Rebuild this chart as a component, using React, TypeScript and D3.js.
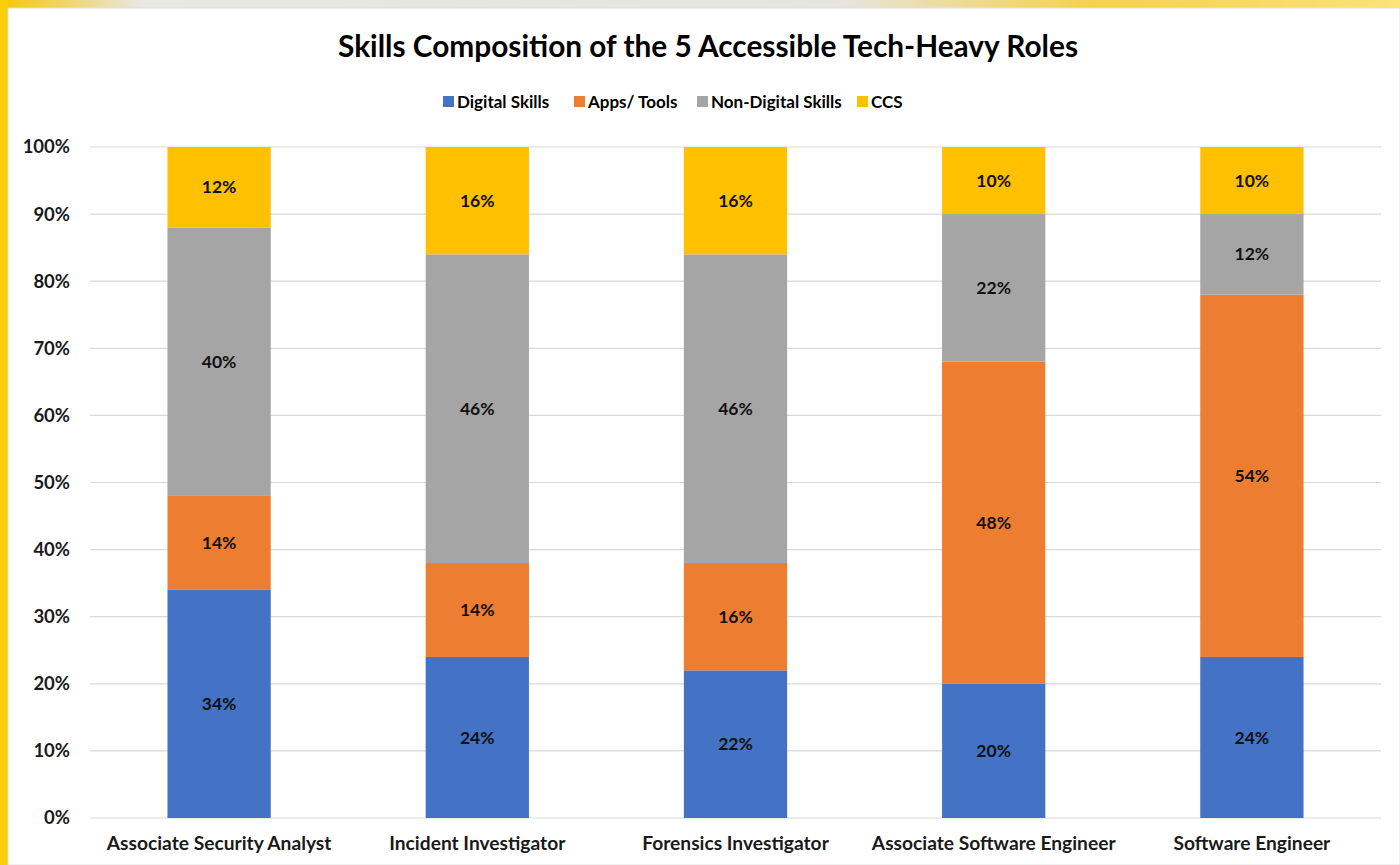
import React, { useEffect, useRef } from 'react';
import * as d3 from 'd3';

const roles = [
	'Associate Security Analyst',
	'Incident Investigator',
	'Forensics Investigator',
	'Associate Software Engineer',
	'Software Engineer',
];
const seriesNames = ['Digital Skills', 'Apps/ Tools', 'Non-Digital Skills', 'CCS'];
const digitalSkills = [34, 24, 22, 20, 24];
const appsTools = [14, 14, 16, 48, 54];
const nonDigitalSkills = [40, 46, 46, 22, 12];
const ccs = [12, 16, 16, 10, 10];
const yTicks = [0, 10, 20, 30, 40, 50, 60, 70, 80, 90, 100];
const colors = ['#4472C4', '#ED7D31', '#A5A5A5', '#FFC000'];

const width = 1400;
const height = 865;
const font = 'Lato, "Open Sans", sans-serif';

const App = () => {
	const d3Container = useRef(null);

	useEffect(() => {
		if (!d3Container.current) return;
		const svg = d3.select(d3Container.current);
		svg.selectAll('*').remove();

		const margins = { t: 147, b: 47, l: 90, r: 19 };
		const plotwidth = width - margins.l - margins.r;
		const plotheight = height - margins.t - margins.b;

		// background frame
		const defs = svg.append('defs');
		const grad = defs
			.append('linearGradient')
			.attr('id', 'bg')
			.attr('x1', 0)
			.attr('y1', 0)
			.attr('x2', 1)
			.attr('y2', 0);
		grad.append('stop').attr('offset', '0%').attr('stop-color', '#f7c600');
		grad.append('stop').attr('offset', '10%').attr('stop-color', '#e9e7e2');
		grad.append('stop').attr('offset', '60%').attr('stop-color', '#e6e4df');
		grad.append('stop').attr('offset', '78%').attr('stop-color', '#f5d24a');
		grad.append('stop').attr('offset', '100%').attr('stop-color', '#fbe27a');
		svg.append('rect').attr('width', width).attr('height', height).attr('fill', 'url(#bg)');
		svg.append('rect').attr('x', 0).attr('y', 0).attr('width', 8).attr('height', height).attr('fill', '#f9cf0a');
		svg.append('rect')
			.attr('x', 8)
			.attr('y', 8)
			.attr('width', width - 8)
			.attr('height', height - 8)
			.attr('fill', '#ffffff')
			.attr('stroke', '#e0e0e0');

		const xScale = d3.scaleBand().domain(roles).range([0, plotwidth]).paddingInner(0.6).paddingOuter(0.3);
		const yScale = d3.scaleLinear().domain([0, 100]).range([plotheight, 0]);

		const rows = roles.map((r, i) => ({
			role: r,
			'Digital Skills': digitalSkills[i],
			'Apps/ Tools': appsTools[i],
			'Non-Digital Skills': nonDigitalSkills[i],
			CCS: ccs[i],
		}));
		const stacked = d3.stack().keys(seriesNames)(rows);

		const plotg = svg.append('g').attr('transform', `translate(${margins.l}, ${margins.t})`);

		// gridlines
		plotg
			.selectAll('.grid')
			.data(yTicks)
			.join('line')
			.attr('class', 'grid')
			.attr('x1', 0)
			.attr('x2', plotwidth)
			.attr('y1', d => yScale(d))
			.attr('y2', d => yScale(d))
			.attr('stroke', '#d9d9d9')
			.attr('stroke-width', 1.2);

		const layers = plotg
			.selectAll('.layer')
			.data(stacked)
			.join('g')
			.attr('class', 'layer')
			.attr('fill', (d, i) => colors[i]);

		layers
			.selectAll('rect')
			.data(d => d)
			.join('rect')
			.attr('x', d => xScale(d.data.role))
			.attr('y', d => yScale(d[1]))
			.attr('width', xScale.bandwidth())
			.attr('height', d => yScale(d[0]) - yScale(d[1]));

		layers
			.selectAll('text')
			.data(d => d)
			.join('text')
			.attr('x', d => xScale(d.data.role) + xScale.bandwidth() / 2)
			.attr('y', d => yScale((d[0] + d[1]) / 2))
			.attr('dy', '0.35em')
			.attr('text-anchor', 'middle')
			.attr('fill', '#111')
			.style('font-family', font)
			.style('font-weight', 700)
			.style('font-size', '17.5px')
			.text(d => `${d[1] - d[0]}%`);

		// y axis labels
		svg.append('g')
			.attr('transform', `translate(${margins.l}, ${margins.t})`)
			.call(d3.axisLeft(yScale).tickValues(yTicks).tickSize(0).tickPadding(20).tickFormat(d => `${d}%`))
			.call(g => g.select('.domain').remove())
			.call(g =>
				g
					.selectAll('text')
					.attr('fill', '#1a1a1a')
					.style('font-family', font)
					.style('font-weight', 700)
					.style('font-size', '18.5px')
			);

		// x axis labels
		svg.append('g')
			.attr('transform', `translate(${margins.l}, ${margins.t + plotheight})`)
			.call(d3.axisBottom(xScale).tickSize(0).tickPadding(18))
			.call(g => g.select('.domain').remove())
			.call(g =>
				g
					.selectAll('text')
					.attr('fill', '#1a1a1a')
					.style('font-family', font)
					.style('font-weight', 700)
					.style('font-size', '19.2px')
			);

		// title
		svg.append('text')
			.attr('x', 708)
			.attr('y', 57)
			.attr('text-anchor', 'middle')
			.attr('fill', '#000')
			.style('font-family', font)
			.style('font-weight', 700)
			.style('font-size', '29.8px')
			.text('Skills Composition of the 5 Accessible Tech-Heavy Roles');

		// legend
		const legendX = [443, 574, 697, 857];
		const legend = svg.append('g').attr('transform', 'translate(0, 102)');
		legend
			.selectAll('rect')
			.data(seriesNames)
			.join('rect')
			.attr('x', (d, i) => legendX[i])
			.attr('y', -6)
			.attr('width', 11)
			.attr('height', 11)
			.attr('fill', (d, i) => colors[i]);
		legend
			.selectAll('text')
			.data(seriesNames)
			.join('text')
			.attr('x', (d, i) => legendX[i] + 14)
			.attr('y', 0)
			.attr('dy', '0.35em')
			.attr('fill', '#000')
			.style('font-family', font)
			.style('font-weight', 700)
			.style('font-size', '17px')
			.text(d => d);
	}, []);

	return (
		<svg
			ref={d3Container}
			width={width}
			height={height}
			style={{ position: 'absolute', top: 0, left: 0, display: 'block' }}
		/>
	);
};

export default App;
